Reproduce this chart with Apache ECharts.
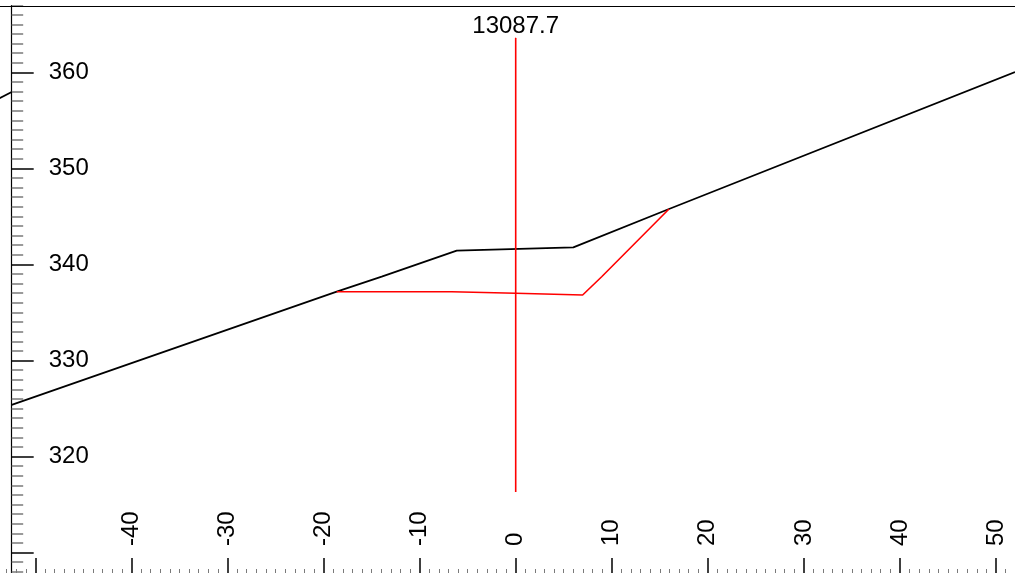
<!DOCTYPE html>
<html>
<head>
<meta charset="utf-8">
<script src="https://cdn.jsdelivr.net/npm/echarts@6/dist/echarts.min.js"></script>
<style>
  html, body { margin: 0; padding: 0; background: #fff; }
  #chart { width: 1015px; height: 573px; }
</style>
</head>
<body>
<div id="chart"></div>
<script>
// offset (m) / elevation (m) pairs
const groundLine = [[-52.47, 325.37], [-18.63, 337.16], [-13.95, 338.72], [-6.14, 341.43], [6.0, 341.78], [15.96, 345.77], [51.98, 360.03]];
const groundLineLeft = [[-54.0, 357.15], [-52.47, 357.95]];
const designLine = [[-18.63, 337.16], [-6.66, 337.16], [0, 337.0], [6.97, 336.82], [8.95, 338.72], [15.96, 345.77]];
const centreLine = [[0, 316.31], [0, 363.57]];
const stationLabel = '13087.7';

const xTickLabels = [-40, -30, -20, -10, 0, 10, 20, 30, 40, 50];
const yTickLabels = [320, 330, 340, 350, 360];

const font = "'Liberation Sans', Arial, sans-serif";
const minorGrey = '#7a7a7a';

const chart = echarts.init(document.getElementById('chart'), null, { renderer: 'canvas' });

chart.setOption({
    animation: false,
    backgroundColor: '#fff',
    grid: {
        left: -60.66,
        right: -77.06,
        top: -23.76,
        bottom: -75.66,
        containLabel: false,
        outerBoundsMode: 'none'
    },
    xAxis: [
        {
            type: 'value',
            position: 'bottom',
            offset: -74.66,
            min: -60,
            max: 60,
            interval: 10,
            axisLine: { show: true, onZero: false, lineStyle: { color: '#000', width: 1 } },
            axisTick: { show: true, inside: true, length: 16, lineStyle: { color: '#000', width: 1.5 } },
            minorTick: { show: true, splitNumber: 10, length: 5, lineStyle: { color: minorGrey, width: 1 } },
            axisLabel: {
                show: true,
                inside: true,
                rotate: 90,
                margin: 28,
                color: '#000',
                fontSize: 24,
                fontFamily: font,
                formatter: v => xTickLabels.includes(v) ? String(v) : ''
            },
            splitLine: { show: false },
            minorSplitLine: { show: false }
        },
        {
            type: 'value',
            position: 'top',
            offset: -29.76,
            min: -60,
            max: 60,
            axisLine: { show: true, onZero: false, lineStyle: { color: '#000', width: 1.2 } },
            axisTick: { show: false },
            axisLabel: { show: false },
            splitLine: { show: false }
        }
    ],
    yAxis: {
        type: 'value',
        position: 'left',
        offset: -72.36,
        min: 300,
        max: 370,
        interval: 10,
        axisLine: { show: true, onZero: false, lineStyle: { color: '#000', width: 1.2 } },
        axisTick: { show: true, inside: true, length: 22, lineStyle: { color: '#000', width: 1.5 } },
        minorTick: { show: true, splitNumber: 10, length: 11.5, lineStyle: { color: minorGrey, width: 1.5 } },
        axisLabel: {
            show: true,
            inside: true,
            margin: 37,
            color: '#000',
            fontSize: 24,
            fontFamily: font,
            formatter: v => yTickLabels.includes(v) ? String(v) : ''
        },
        splitLine: { show: false },
        minorSplitLine: { show: false }
    },
    graphic: [
        {
            type: 'rect',
            z: 100,
            shape: { x: 0, y: 0, width: 1015, height: 5 },
            style: { fill: '#fff' }
        }
    ],
    series: [
        {
            name: 'ground',
            type: 'line',
            data: groundLine,
            showSymbol: false,
            lineStyle: { color: '#000', width: 1.8 },
            z: 3
        },
        {
            name: 'groundLeft',
            type: 'line',
            data: groundLineLeft,
            showSymbol: false,
            lineStyle: { color: '#000', width: 1.8 },
            z: 3
        },
        {
            name: 'design',
            type: 'line',
            data: designLine,
            showSymbol: false,
            lineStyle: { color: '#ff0000', width: 1.6 },
            z: 4
        },
        {
            name: 'centre',
            type: 'line',
            data: centreLine,
            showSymbol: false,
            lineStyle: { color: '#ff0000', width: 1.6 },
            z: 4
        },
        {
            name: 'station',
            type: 'scatter',
            data: [centreLine[1]],
            symbolSize: 1,
            itemStyle: { color: '#ff0000', opacity: 1 },
            label: {
                show: true,
                position: 'top',
                distance: -1,
                color: '#000',
                fontSize: 24,
                fontFamily: font,
                formatter: () => stationLabel
            },
            z: 5
        }
    ]
});
</script>
</body>
</html>
